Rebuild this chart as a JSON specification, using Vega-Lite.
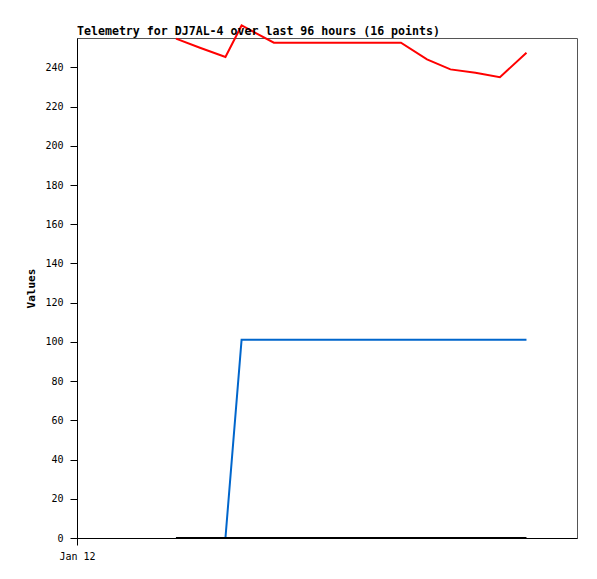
{
  "$schema": "https://vega.github.io/schema/vega-lite/v6.json",
  "autosize": {"type": "none"},
  "width": 500,
  "height": 500,
  "padding": {"left": 77, "top": 38, "right": 20, "bottom": 41},
  "background": "white",
  "config": {
    "view": {"stroke": "#555555", "strokeWidth": 1},
    "font": "DejaVu Sans Mono"
  },
  "title": {
    "text": "Telemetry for DJ7AL-4 over last 96 hours (16 points)",
    "anchor": "start",
    "frame": "group",
    "font": "DejaVu Sans Mono",
    "fontSize": 11.6,
    "fontWeight": "bold",
    "color": "#000000",
    "offset": -16
  },
  "data": {
    "values": [
      {"time": "2024-01-12T19:00:00", "series": "Channel 1", "value": 254.7},
      {"time": "2024-01-12T23:36:00", "series": "Channel 1", "value": 250.0},
      {"time": "2024-01-13T04:30:00", "series": "Channel 1", "value": 245.3},
      {"time": "2024-01-13T07:36:00", "series": "Channel 1", "value": 261.4},
      {"time": "2024-01-13T13:48:00", "series": "Channel 1", "value": 252.6},
      {"time": "2024-01-13T18:48:00", "series": "Channel 1", "value": 252.6},
      {"time": "2024-01-14T00:36:00", "series": "Channel 1", "value": 252.6},
      {"time": "2024-01-14T06:24:00", "series": "Channel 1", "value": 252.6},
      {"time": "2024-01-14T10:12:00", "series": "Channel 1", "value": 252.6},
      {"time": "2024-01-14T14:12:00", "series": "Channel 1", "value": 252.6},
      {"time": "2024-01-14T19:12:00", "series": "Channel 1", "value": 244.1},
      {"time": "2024-01-14T23:42:00", "series": "Channel 1", "value": 239.0},
      {"time": "2024-01-15T04:30:00", "series": "Channel 1", "value": 237.3},
      {"time": "2024-01-15T09:12:00", "series": "Channel 1", "value": 235.0},
      {"time": "2024-01-15T14:18:00", "series": "Channel 1", "value": 247.5},
      {"time": "2024-01-12T19:00:00", "series": "Channel 2", "value": 0},
      {"time": "2024-01-12T23:36:00", "series": "Channel 2", "value": 0},
      {"time": "2024-01-13T04:30:00", "series": "Channel 2", "value": 0},
      {"time": "2024-01-13T07:36:00", "series": "Channel 2", "value": 101.1},
      {"time": "2024-01-13T13:48:00", "series": "Channel 2", "value": 101.1},
      {"time": "2024-01-13T18:48:00", "series": "Channel 2", "value": 101.1},
      {"time": "2024-01-14T00:36:00", "series": "Channel 2", "value": 101.1},
      {"time": "2024-01-14T06:24:00", "series": "Channel 2", "value": 101.1},
      {"time": "2024-01-14T10:12:00", "series": "Channel 2", "value": 101.1},
      {"time": "2024-01-14T14:12:00", "series": "Channel 2", "value": 101.1},
      {"time": "2024-01-14T19:12:00", "series": "Channel 2", "value": 101.1},
      {"time": "2024-01-14T23:42:00", "series": "Channel 2", "value": 101.1},
      {"time": "2024-01-15T04:30:00", "series": "Channel 2", "value": 101.1},
      {"time": "2024-01-15T09:12:00", "series": "Channel 2", "value": 101.1},
      {"time": "2024-01-15T14:18:00", "series": "Channel 2", "value": 101.1},
      {"time": "2024-01-12T19:00:00", "series": "Channel 3", "value": 0},
      {"time": "2024-01-12T23:36:00", "series": "Channel 3", "value": 0},
      {"time": "2024-01-13T04:30:00", "series": "Channel 3", "value": 0},
      {"time": "2024-01-13T07:36:00", "series": "Channel 3", "value": 0},
      {"time": "2024-01-13T13:48:00", "series": "Channel 3", "value": 0},
      {"time": "2024-01-13T18:48:00", "series": "Channel 3", "value": 0},
      {"time": "2024-01-14T00:36:00", "series": "Channel 3", "value": 0},
      {"time": "2024-01-14T06:24:00", "series": "Channel 3", "value": 0},
      {"time": "2024-01-14T10:12:00", "series": "Channel 3", "value": 0},
      {"time": "2024-01-14T14:12:00", "series": "Channel 3", "value": 0},
      {"time": "2024-01-14T19:12:00", "series": "Channel 3", "value": 0},
      {"time": "2024-01-14T23:42:00", "series": "Channel 3", "value": 0},
      {"time": "2024-01-15T04:30:00", "series": "Channel 3", "value": 0},
      {"time": "2024-01-15T09:12:00", "series": "Channel 3", "value": 0},
      {"time": "2024-01-15T14:18:00", "series": "Channel 3", "value": 0}
    ]
  },
  "encoding": {
    "x": {
      "field": "time",
      "type": "temporal",
      "scale": {"domain": ["2024-01-12T00:00:00", "2024-01-16T00:00:00"]},
      "axis": {
        "title": null,
        "values": [{"year": 2024, "month": 1, "date": 12}],
        "format": "%b %d",
        "grid": false,
        "domainColor": "#000000",
        "tickColor": "#000000",
        "tickSize": 7,
        "labelFont": "DejaVu Sans Mono",
        "labelFontSize": 10,
        "labelColor": "#000000",
        "labelPadding": 6,
        "labelFlush": false
      }
    },
    "y": {
      "field": "value",
      "type": "quantitative",
      "scale": {"domain": [0, 255], "nice": false, "zero": true},
      "axis": {
        "title": "Values",
        "titleFont": "DejaVu Sans Mono",
        "titleFontSize": 11,
        "titleFontWeight": "bold",
        "titleColor": "#000000",
        "titlePadding": 8,
        "values": [0, 20, 40, 60, 80, 100, 120, 140, 160, 180, 200, 220, 240],
        "grid": false,
        "domainColor": "#000000",
        "tickColor": "#000000",
        "tickSize": 7,
        "labelFont": "DejaVu Sans Mono",
        "labelFontSize": 10,
        "labelColor": "#000000",
        "labelPadding": 7
      }
    },
    "color": {
      "field": "series",
      "type": "nominal",
      "scale": {"domain": ["Channel 1", "Channel 2", "Channel 3"], "range": ["#ff0000", "#0066cc", "#000000"]},
      "legend": null
    }
  },
  "layer": [
    {"transform": [{"filter": "datum.series === 'Channel 1'"}], "mark": {"type": "line", "strokeWidth": 2, "clip": false}},
    {"transform": [{"filter": "datum.series === 'Channel 2'"}], "mark": {"type": "line", "strokeWidth": 2, "clip": false}},
    {"transform": [{"filter": "datum.series === 'Channel 3'"}], "mark": {"type": "line", "strokeWidth": 2, "clip": false}}
  ]
}
